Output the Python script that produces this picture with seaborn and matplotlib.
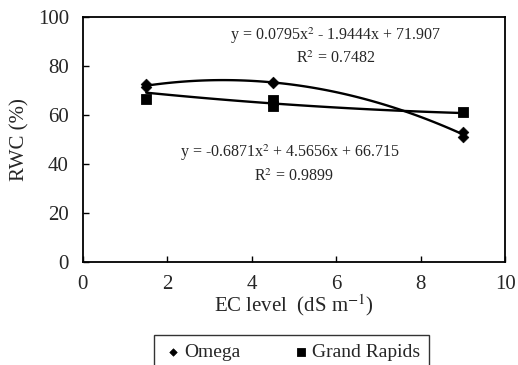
import numpy as np
import pandas as pd
import matplotlib
matplotlib.use("Agg")
import matplotlib.pyplot as plt
import seaborn as sns

# measured RWC values (two replicates where visible)
omega_ec = [1.5, 1.5, 4.5, 4.5, 9.0, 9.0]
omega_rwc = [72.8, 71.5, 73.6, 73.3, 53.2, 51.1]
gr_ec = [1.5, 4.5, 4.5, 9.0]
gr_rwc = [66.4, 66.0, 63.8, 61.1]

# Excel-style polynomial trendlines (from the equations on the chart)
omega_coef = [-0.6871, 4.5656, 66.715]
gr_coef = [0.0795, -1.9444, 71.907]
ec_range = [1.5, 9.0]

sns.set_style("ticks")
plt.rcParams["font.family"] = ["Liberation Serif", "DejaVu Serif"]
plt.rcParams["mathtext.fontset"] = "stix"

fig = plt.figure(figsize=(5.18, 3.65), dpi=100)
ax = fig.add_axes([0.160, 0.282, 0.815, 0.671])

xs = np.linspace(ec_range[0], ec_range[1], 100)
trend = pd.DataFrame({
    "x": np.concatenate([xs, xs]),
    "y": np.concatenate([np.polyval(omega_coef, xs), np.polyval(gr_coef, xs)]),
    "var": ["Omega"] * len(xs) + ["Grand Rapids"] * len(xs),
})
sns.lineplot(data=trend, x="x", y="y", units="var", estimator=None,
             color="black", lw=1.7, ax=ax, legend=False)

sns.scatterplot(x=omega_ec, y=omega_rwc, marker="D", s=30, color="black",
                edgecolor="black", ax=ax, label="Omega", zorder=3)
sns.scatterplot(x=gr_ec, y=gr_rwc, marker="s", s=55, color="black",
                edgecolor="black", ax=ax, label="Grand Rapids", zorder=3)

ax.set_xlim(0, 10)
ax.set_ylim(0, 100)
ax.set_xticks([0, 2, 4, 6, 8, 10])
ax.set_yticks([0, 20, 40, 60, 80, 100])
ax.tick_params(direction="in", labelsize=15, length=4, width=1, color="black")
ax.tick_params(axis="x", pad=9)
ax.tick_params(axis="y", pad=10)
for s in ax.spines.values():
    s.set_visible(True)
    s.set_linewidth(1.3)
    s.set_color("black")

ax.set_xlabel("EC level  (dS m$^{-1}$)", fontsize=15, labelpad=-1)
ax.set_ylabel("RWC (%)", fontsize=15, labelpad=6)

ax.text(6.0, 92.6, "y = 0.0795x$^{2}$ - 1.9444x + 71.907", fontsize=11.5,
        ha="center", va="center")
ax.text(6.0, 83.0, "R$^{2}$ = 0.7482", fontsize=11.5, ha="center", va="center")
ax.text(4.9, 44.5, "y = -0.6871x$^{2}$ + 4.5656x + 66.715", fontsize=11.5,
        ha="center", va="center")
ax.text(5.0, 34.7, "R$^{2}$ = 0.9899", fontsize=11.5, ha="center", va="center")

handles, labels = ax.get_legend_handles_labels()
ax.get_legend().remove()
leg = fig.legend(handles, labels, loc="upper center", bbox_to_anchor=(0.563, 0.082),
                 ncol=2, fontsize=14, frameon=True, fancybox=False, edgecolor="black",
                 handletextpad=0.1, columnspacing=2.6, borderpad=0.45, handlelength=1.0,
                 markerscale=0.7, borderaxespad=0)
leg.get_frame().set_linewidth(1.0)

fig.savefig("out.png", dpi=100)
